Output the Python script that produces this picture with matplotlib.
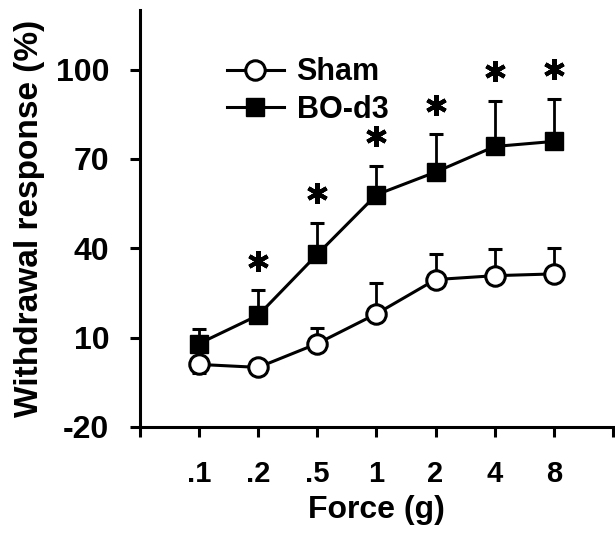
import matplotlib
matplotlib.use("Agg")
import matplotlib.pyplot as plt

plt.rcParams['font.family'] = ['Liberation Sans', 'DejaVu Sans']
plt.rcParams['font.weight'] = 'bold'
plt.rcParams['axes.unicode_minus'] = False

# 힘(g) 카테고리
forces = ['.1', '.2', '.5', '1', '2', '4', '8']
xs = list(range(1, len(forces) + 1))

# Sham 그룹
sham = [1, 0, 8, 18, 29.5, 30.8, 31.4]
sham_up = [0, 0, 5.3, 10.4, 8.7, 9, 8.6]
sham_down = [3, 0, 0, 0, 0, 0, 0]

# BO-d3 그룹
bo = [8, 17.5, 38, 58, 65.6, 74.2, 75.9]
bo_up = [5, 8.4, 10.5, 9.6, 12.7, 15.4, 14.4]

# 유의차 표시 (1 = 별표)
signif = [0, 1, 1, 1, 1, 1, 1]

fig = plt.figure(figsize=(6.15, 5.33), dpi=100)
ax = fig.add_axes([0.2276, 0.199, 0.769, 0.782])

ax.errorbar(xs, sham, yerr=[sham_down, sham_up], fmt='none', ecolor='black',
            elinewidth=2, capsize=5, capthick=2.2, zorder=2)
ax.errorbar(xs, bo, yerr=[[0] * len(bo), bo_up], fmt='none', ecolor='black',
            elinewidth=2, capsize=5, capthick=2.2, zorder=2)
ax.plot(xs, sham, '-o', color='black', lw=2.2, ms=14, mfc='white', mec='black',
        mew=2.2, label='Sham', zorder=3)
ax.plot(xs, bo, '-s', color='black', lw=2.2, ms=13, mfc='black', mec='black',
        label='BO-d3', zorder=4)

# 별표: 에러바 위쪽
for x, m, e, s in zip(xs, bo, bo_up, signif):
    if s:
        ax.plot(x, m + e + 10, marker=(6, 2, 0), ms=15, mew=3, color='black')

ax.set_xlim(0, 8)
ax.set_ylim(-20, 120)
ax.set_xticks(range(0, 9))
ax.set_xticklabels([''] + forces + [''])
ax.set_yticks([-20, 10, 40, 70, 100])

for s in ['top', 'right']:
    ax.spines[s].set_visible(False)
for s in ['left', 'bottom']:
    ax.spines[s].set_linewidth(2.2)

ax.tick_params(axis='both', direction='out', length=7, width=2.2)
ax.tick_params(axis='x', pad=17, labelsize=21)
ax.tick_params(axis='y', pad=15, labelsize=23)

ax.set_xlabel('Force (g)', fontsize=23, fontweight='bold', labelpad=5)
ax.set_ylabel('Withdrawal response (%)', fontsize=24, fontweight='bold', labelpad=8)

ax.legend(loc='upper left', bbox_to_anchor=(0.125, 0.953), frameon=False, fontsize=22,
          handlelength=1.87, handletextpad=0.42, labelspacing=0.25)

fig.savefig('out.png', dpi=100)
